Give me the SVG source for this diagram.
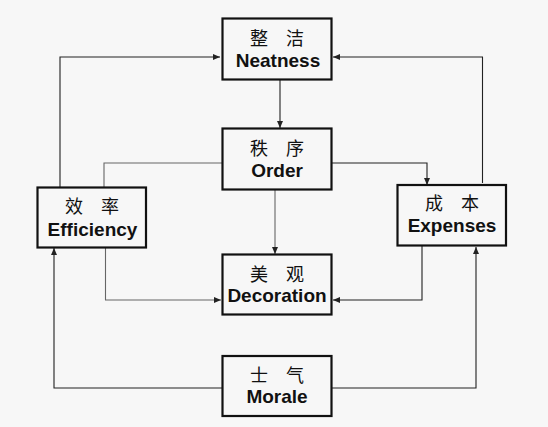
<svg xmlns="http://www.w3.org/2000/svg" width="548" height="427" viewBox="0 0 548 427">
<style>
.box{fill:#f7f7f7;stroke:#111;stroke-width:2.2}
.zh{font-family:"Noto Sans CJK SC",sans-serif;font-size:18px;fill:#111;text-anchor:middle}
.en{font-family:"Liberation Sans",Arial,sans-serif;font-weight:bold;font-size:19px;fill:#111;text-anchor:middle}
.ln{fill:none;stroke:#222;stroke-width:1.1}
.lg{fill:none;stroke:#666;stroke-width:1.1}
</style>
<defs>
<marker id="ah" markerWidth="7" markerHeight="6" refX="7" refY="3" orient="auto" markerUnits="userSpaceOnUse">
<path d="M0,0 L7,3 L0,6 Z" fill="#222"/>
</marker>
</defs>
<rect width="548" height="427" fill="#f7f7f7"/>
<g id="connectors">
<path class="ln" d="M60,187 V57 H220" marker-end="url(#ah)"/>
<path class="ln" d="M482.5,183 V57 H333" marker-end="url(#ah)"/>
<path class="ln" d="M280,80 V128" marker-end="url(#ah)"/>
<path class="lg" d="M222,163 H104 V187"/>
<path class="ln" d="M332,163 H427 V185" marker-end="url(#ah)"/>
<path class="lg" d="M275,190 V254" marker-end="url(#ah)"/>
<path class="lg" d="M105.5,248 V300 H221" marker-end="url(#ah)"/>
<path class="ln" d="M422,246 V300 H333" marker-end="url(#ah)"/>
<path class="ln" d="M222,388 H54 V248" marker-end="url(#ah)"/>
<path class="ln" d="M332,388 H476 V247" marker-end="url(#ah)" stroke-width="1.6"/>
</g>
<g id="neatness">
<rect class="box" x="222.5" y="18.5" width="109" height="61"/>
<text class="zh" x="277" y="45">整　洁</text>
<text class="en" x="278" y="67">Neatness</text>
</g>
<g id="order">
<rect class="box" x="222.5" y="128.5" width="109" height="61"/>
<text class="zh" x="277" y="155">秩　序</text>
<text class="en" x="277" y="176.5">Order</text>
</g>
<g id="efficiency">
<rect class="box" x="37.5" y="187.5" width="108.5" height="60"/>
<text class="zh" x="92" y="213">效　率</text>
<text class="en" x="92.5" y="236">Efficiency</text>
</g>
<g id="expenses">
<rect class="box" x="397.5" y="185" width="108.5" height="60.5"/>
<text class="zh" x="452" y="210">成　本</text>
<text class="en" x="452" y="231.5">Expenses</text>
</g>
<g id="decoration">
<rect class="box" x="222.5" y="254.5" width="109" height="60"/>
<text class="zh" x="277" y="281">美　观</text>
<text class="en" x="277" y="301.5">Decoration</text>
</g>
<g id="morale">
<rect class="box" x="222.5" y="356" width="109" height="60"/>
<text class="zh" x="277" y="382">士　气</text>
<text class="en" x="277" y="403">Morale</text>
</g>
</svg>
